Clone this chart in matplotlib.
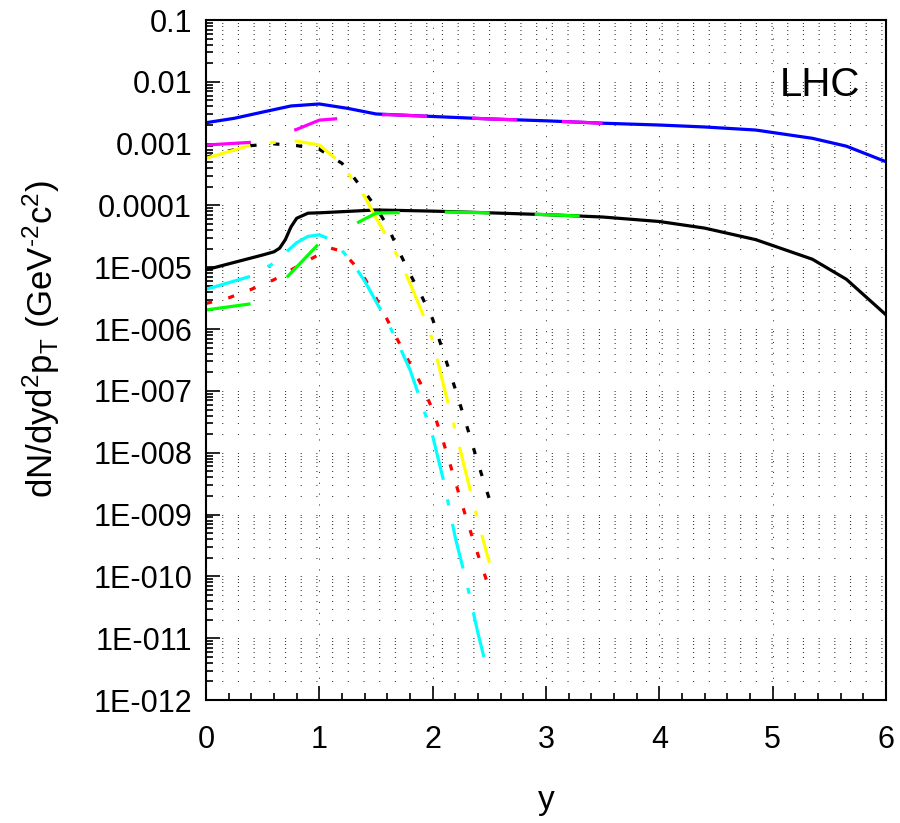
import numpy as np
import matplotlib
matplotlib.use("Agg")
import matplotlib.pyplot as plt
from matplotlib.ticker import LogLocator, MultipleLocator, NullFormatter

plt.rcParams['font.family'] = ['Liberation Sans', 'DejaVu Sans']
plt.rcParams['mathtext.fontset'] = 'custom'
plt.rcParams['mathtext.rm'] = 'Liberation Sans'
plt.rcParams['mathtext.it'] = 'Liberation Sans'
plt.rcParams['mathtext.bf'] = 'Liberation Sans:bold'
plt.rcParams['lines.scale_dashes'] = False

# values (y = rapidity, dN/dyd2pT)
x_blue = [0, 0.25, 0.5, 0.75, 1.0, 1.25, 1.5, 2.0, 2.5, 3.0, 3.5, 4.0, 4.4, 4.85, 5.35, 5.65, 6.0]
y_blue = [2.18e-3, 2.57e-3, 3.24e-3, 4.07e-3, 4.38e-3, 3.72e-3, 3.02e-3, 2.75e-3, 2.51e-3,
          2.34e-3, 2.14e-3, 2.0e-3, 1.86e-3, 1.66e-3, 1.22e-3, 9.1e-4, 5.1e-4]

x_magenta = [0, 0.4, 0.6, 0.8, 1.0, 1.2, 1.4, 1.6, 2.0, 2.5, 3.0, 3.5]
y_magenta = [9.5e-4, 1.05e-3, 1.32e-3, 1.70e-3, 2.40e-3, 2.57e-3, 2.8e-3, 2.95e-3,
             2.75e-3, 2.51e-3, 2.34e-3, 2.14e-3]

x_yellow = [0, 0.4, 0.6, 0.8, 1.0, 1.2, 1.3, 1.4, 1.5, 1.6, 1.7, 1.8, 1.9, 2.0, 2.1, 2.2, 2.3, 2.4, 2.5]
y_yellow = [5.8e-4, 9.5e-4, 1.05e-3, 1.10e-3, 9.5e-4, 4.7e-4, 2.5e-4, 1.39e-4, 6.3e-5, 3.0e-5,
            1.4e-5, 5.5e-6, 2.0e-6, 6.6e-7, 1.15e-7, 2.3e-8, 4.2e-9, 7.9e-10, 1.66e-10]

x_kdot = [0, 0.2, 0.4, 0.6, 0.8, 1.0, 1.2, 1.3, 1.4, 1.5, 1.6, 1.7, 1.8, 1.9, 2.0, 2.1, 2.2, 2.3, 2.4, 2.5]
y_kdot = [6.0e-4, 7.6e-4, 9.3e-4, 9.9e-4, 9.3e-4, 8.1e-4, 4.8e-4, 2.9e-4, 1.66e-4, 9.3e-5,
          4.7e-5, 1.86e-5, 7.8e-6, 3.5e-6, 1.45e-6, 3.9e-7, 1.07e-7, 2.75e-8, 6.8e-9, 1.78e-9]

x_black = [0, 0.25, 0.5, 0.6, 0.65, 0.7, 0.75, 0.8, 0.9, 1.0, 1.5, 2.0, 2.5, 3.0, 3.5, 4.0,
           4.4, 4.85, 5.35, 5.65, 6.0]
y_black = [9.1e-6, 1.2e-5, 1.58e-5, 1.78e-5, 2.04e-5, 2.8e-5, 4.5e-5, 6.2e-5, 7.5e-5, 7.6e-5,
           8.45e-5, 8.1e-5, 7.6e-5, 7.1e-5, 6.5e-5, 5.5e-5, 4.3e-5, 2.8e-5, 1.35e-5, 6.4e-6, 1.7e-6]

x_green = [0, 0.4, 0.72, 1.0, 1.2, 1.365, 1.5, 1.75, 2.0, 2.5, 3.0, 3.5]
y_green = [2.04e-6, 2.57e-6, 7.1e-6, 2.45e-5, 3.8e-5, 5.6e-5, 7.5e-5, 7.7e-5, 7.9e-5,
           7.6e-5, 7.1e-5, 6.5e-5]

x_red = [0, 0.2, 0.4, 0.6, 0.8, 1.0, 1.1, 1.2, 1.3, 1.4, 1.5, 1.6, 1.7, 1.8, 1.9, 2.0, 2.1,
         2.2, 2.3, 2.4, 2.5]
y_red = [2.6e-6, 3.2e-6, 4.4e-6, 6.3e-6, 1.02e-5, 1.62e-5, 2.04e-5, 1.82e-5, 1.15e-5, 6.6e-6,
         3.2e-6, 1.41e-6, 6.2e-7, 2.75e-7, 1.26e-7, 5.0e-8, 1.38e-8, 3.4e-9, 8.3e-10, 2.24e-10, 6.3e-11]

x_cyan = [0, 0.4, 0.6, 0.8, 0.9, 1.0, 1.1, 1.2, 1.3, 1.4, 1.5, 1.6, 1.7, 1.8, 1.9, 2.0, 2.1,
          2.2, 2.3, 2.4, 2.49]
y_cyan = [4.4e-6, 7.2e-6, 1.17e-5, 2.5e-5, 3.16e-5, 3.35e-5, 2.8e-5, 1.86e-5, 1.12e-5, 6.0e-6,
          2.8e-6, 1.32e-6, 5.6e-7, 2.2e-7, 6.5e-8, 1.86e-8, 3.3e-9, 4.2e-10, 7.9e-11, 1.2e-11, 2.6e-12]

ytick_vals = [1e-12, 1e-11, 1e-10, 1e-9, 1e-8, 1e-7, 1e-6, 1e-5, 1e-4, 1e-3, 1e-2, 1e-1]
ytick_labels = ['1E-012', '1E-011', '1E-010', '1E-009', '1E-008', '1E-007', '1E-006',
                '1E-005', '0.0001', '0.001', '0.01', '0.1']

fig = plt.figure(figsize=(9, 8.23), dpi=100)
ax = fig.add_axes([206 / 900, 123 / 823, 680 / 900, 680 / 823])

lw = 2.3
longdash = (0, (32.4, 32.4))
dashdot = (0, (33, 14.4, 4.3, 13.7))
dotted = (0, (4.5, 12))

ax.plot(x_blue, y_blue, color='#0000ff', lw=lw)
ax.plot(x_black, y_black, color='black', lw=lw)
ax.plot(x_kdot, y_kdot, color='black', lw=lw, ls=dotted)
ax.plot(x_yellow, y_yellow, color='#ffff00', lw=lw, ls=dashdot)
ax.plot(x_red, y_red, color='#ff0000', lw=lw, ls=dotted)
ax.plot(x_cyan, y_cyan, color='#00ffff', lw=lw, ls=dashdot)
ax.plot(x_magenta, y_magenta, color='#ff00ff', lw=lw, ls=longdash)
ax.plot(x_green, y_green, color='#00ff00', lw=lw, ls=longdash)

ax.set_yscale('log')
ax.set_xlim(0, 6)
ax.set_ylim(1e-12, 0.1)
ax.set_yticks(ytick_vals, ytick_labels)
ax.yaxis.set_minor_locator(LogLocator(base=10, subs=np.arange(2, 10), numticks=100))
ax.yaxis.set_minor_formatter(NullFormatter())
ax.xaxis.set_major_locator(MultipleLocator(1))
ax.xaxis.set_minor_locator(MultipleLocator(0.2))

ax.tick_params(which='both', direction='in', top=False, right=False, width=1.2, labelsize=22)
ax.tick_params(which='major', length=10)
ax.tick_params(which='minor', length=5)
ax.tick_params(axis='y', which='major', pad=10)
ax.tick_params(axis='x', which='major', pad=18)

ax.grid(which='both', axis='y', color='#333333', lw=0.7, ls=(0, (0.8, 10.5)))
ax.grid(which='major', axis='x', color='#333333', lw=0.7, ls=(0, (0.8, 7)))
ax.set_axisbelow(True)

for s in ax.spines.values():
    s.set_linewidth(1.5)

ax.set_ylabel(r'dN/dyd$^{2}$p$_{T}$ (GeV$^{\text{-}2}$c$^{2}$)', fontsize=25)
ax.yaxis.set_label_coords(-0.212, 0.531)
ax.set_xlabel('y', fontsize=24)
ax.xaxis.set_label_coords(0.5, -0.125)

ax.text(0.844, 0.888, 'LHC', transform=ax.transAxes, fontsize=29, va='baseline', ha='left')

fig.savefig('out.png', dpi=100)
